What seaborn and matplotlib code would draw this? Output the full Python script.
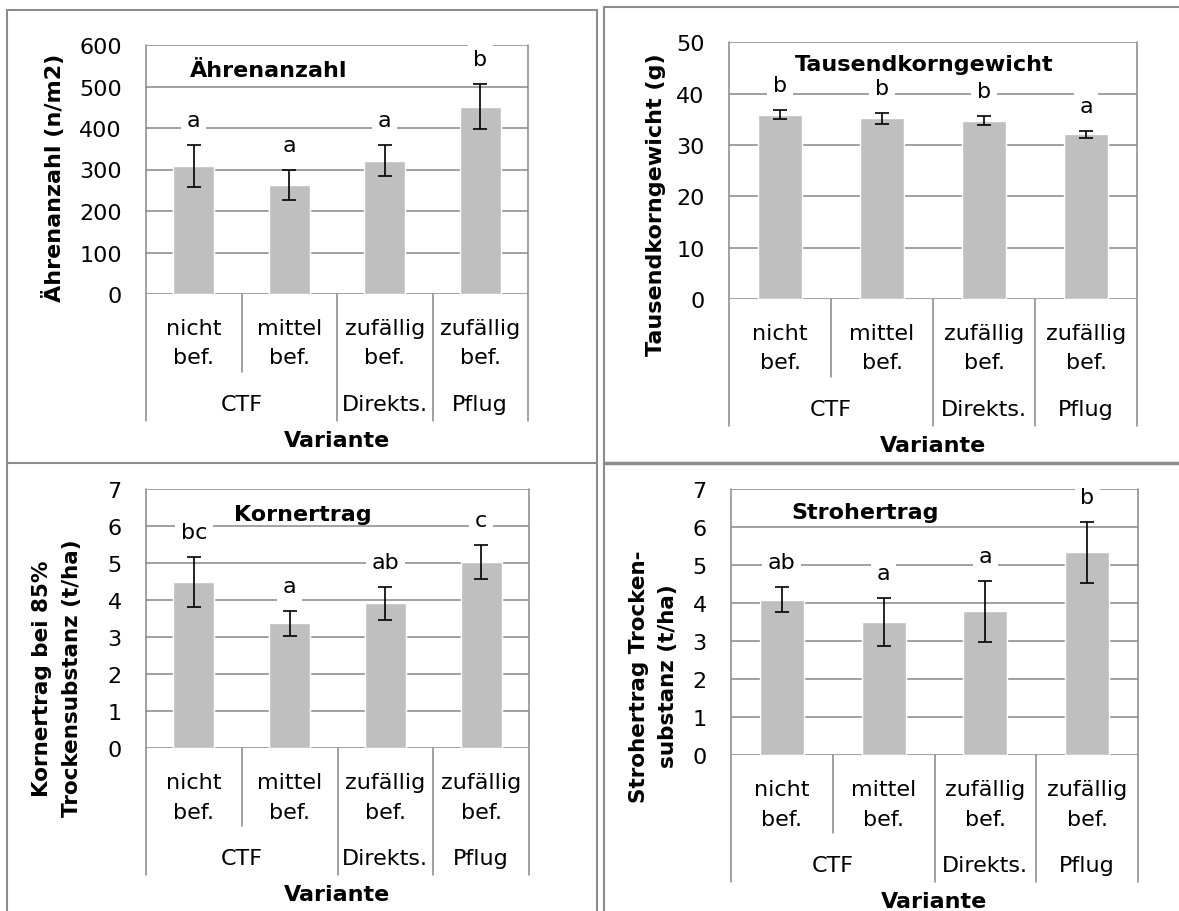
import numpy as np
import pandas as pd
import matplotlib
matplotlib.use("Agg")
import matplotlib.pyplot as plt
import matplotlib.transforms as mtransforms
from matplotlib.lines import Line2D
import seaborn as sns

# two-level category axis
bewirtschaftung = ["nicht\nbef.", "mittel\nbef.", "zufällig\nbef.", "zufällig\nbef."]
verfahren = ["CTF", "CTF", "Direkts.", "Pflug"]

# Ährenanzahl (n/m2)
aehren = [309, 263, 321, 451]
aehren_err = [51, 36, 37, 54]
aehren_sig = ["a", "a", "a", "b"]

# Tausendkorngewicht (g)
tkg = [35.9, 35.2, 34.7, 32.1]
tkg_err = [0.9, 1.1, 0.9, 0.65]
tkg_sig = ["b", "b", "b", "a"]

# Kornertrag (t/ha)
korn = [4.48, 3.37, 3.91, 5.02]
korn_err = [0.68, 0.34, 0.45, 0.45]
korn_sig = ["bc", "a", "ab", "c"]

# Strohertrag (t/ha)
stroh = [4.09, 3.49, 3.78, 5.33]
stroh_err = [0.34, 0.63, 0.80, 0.80]
stroh_sig = ["ab", "a", "a", "b"]

BAR = "#BFBFBF"
GRID = "#888888"
FRAME = "#8C8C8C"
W, H = 1179, 912

sns.set_style("white")
plt.rcParams["font.family"] = ["DejaVu Sans"]
plt.rcParams["text.color"] = "black"
plt.rcParams["axes.labelcolor"] = "black"
plt.rcParams["xtick.color"] = "black"
plt.rcParams["ytick.color"] = "black"

fig = plt.figure(figsize=(W / 100, H / 100), dpi=100)
fig.patch.set_facecolor("white")

keys = [f"{v} {b}" for v, b in zip(verfahren, bewirtschaftung)]


def px_rect(left, top, right, bottom):
    return [left / W, 1 - bottom / H, (right - left) / W, (bottom - top) / H]


def panel(rect, werte, fehler, sig, titel, title_xy, ylabel, ylab_xy, ymax, ystep, ylab_size):
    ax = fig.add_axes(rect)
    h_px = rect[3] * H
    df = pd.DataFrame({"variante": keys, "wert": werte})
    sns.barplot(data=df, x="variante", y="wert", order=keys, color=BAR, saturation=1,
                width=0.43, errorbar=None, ax=ax, zorder=2)
    ax.errorbar(range(len(werte)), werte, yerr=fehler, fmt="none", ecolor="black",
                elinewidth=1.2, capsize=5, capthick=1.2, zorder=3)

    ax.set_xlim(-0.5, len(keys) - 0.5)
    ax.set_ylim(0, ymax)
    ax.set_yticks(np.arange(0, ymax + ystep / 2, ystep))
    ax.yaxis.grid(True, color=GRID, lw=1.1)
    ax.set_axisbelow(True)
    for s in ax.spines.values():
        s.set_visible(False)
    ax.tick_params(axis="y", length=6.5, width=1.1, color=GRID, labelcolor="black",
                   pad=11, labelsize=16)
    ax.tick_params(axis="x", length=0, pad=17, labelsize=16, labelcolor="black")
    ax.set_xticks(range(len(keys)))
    ax.set_xticklabels(bewirtschaftung, linespacing=1.6)

    # multi-level category frame lines
    outer = 127 / h_px
    inner = 78 / h_px
    ax.axvline(-0.5, ymin=-outer, ymax=1, color=GRID, lw=1.1, clip_on=False)
    ax.axvline(len(keys) - 0.5, ymin=-outer, ymax=1, color=GRID, lw=1.1, clip_on=False)
    for i in range(len(keys) - 1):
        low = inner if verfahren[i] == verfahren[i + 1] else outer
        ax.axvline(i + 0.5, ymin=-low, ymax=0, color=GRID, lw=1.1, clip_on=False)

    trans = mtransforms.blended_transform_factory(ax.transData, ax.transAxes)
    for g in dict.fromkeys(verfahren):
        idx = [i for i, v in enumerate(verfahren) if v == g]
        ax.text(np.mean(idx), -110 / h_px, g, transform=trans, ha="center", va="center",
                fontsize=16, color="black")

    for i, (w, e, s) in enumerate(zip(werte, fehler, sig)):
        ax.annotate(s, xy=(i, w + e), xytext=(0, 18), textcoords="offset points",
                    ha="center", va="center", fontsize=16, zorder=4, color="black",
                    bbox=dict(boxstyle="square,pad=0.25", fc="white", ec="none"))

    ax.text(title_xy[0], title_xy[1], titel, transform=ax.transAxes, ha="center",
            va="center", fontsize=16, fontweight="bold", zorder=6, color="black")

    ax.set_ylabel(ylabel, fontsize=ylab_size, fontweight="bold", va="center",
                  linespacing=1.6, color="black")
    ax.yaxis.set_label_coords(*ylab_xy)
    ax.set_xlabel("Variante", fontsize=16, fontweight="bold", va="center", color="black")
    ax.xaxis.set_label_coords(0.5, -146 / h_px)
    return ax


panel(px_rect(146, 46, 528, 295), aehren, aehren_err, aehren_sig, "Ährenanzahl",
      (0.32, 0.901), "Ährenanzahl (n/m2)", (-0.243, 0.472), 600, 100, 16)
panel(px_rect(729, 43.3, 1137, 300), tkg, tkg_err, tkg_sig, "Tausendkorngewicht",
      (0.478, 0.915), "Tausendkorngewicht (g)", (-0.179, 0.37), 50, 10, 16)
panel(px_rect(146, 489.7, 529, 749.3), korn, korn_err, korn_sig, "Kornertrag",
      (0.41, 0.901), "Kornertrag bei 85%\nTrockensubstanz (t/ha)", (-0.233, 0.273), 7, 1, 15.5)
panel(px_rect(731, 489.7, 1138, 756.3), stroh, stroh_err, stroh_sig, "Strohertrag",
      (0.329, 0.913), "Strohertrag Trocken-\nsubstanz (t/ha)", (-0.19, 0.3), 7, 1, 15.5)


# panel frames (in pixel coordinates)
def frame(x0, y0, x1, y1, lw=1.5):
    fig.add_artist(Line2D([x0 / W, x1 / W], [1 - y0 / H, 1 - y1 / H],
                          transform=fig.transFigure, color=FRAME, lw=lw))


frame(7.5, 10.5, 7.5, H)
frame(7.5, 10.5, 597.5, 10.5)
frame(597.5, 10.5, 597.5, H)
frame(604.5, 8, 604.5, H)
frame(604.5, 8, W, 8)
frame(7.5, 463.5, 597.5, 463.5)
frame(604.5, 463.5, W, 463.5, lw=2.5)

fig.savefig("out.png", dpi=100, facecolor="white")
